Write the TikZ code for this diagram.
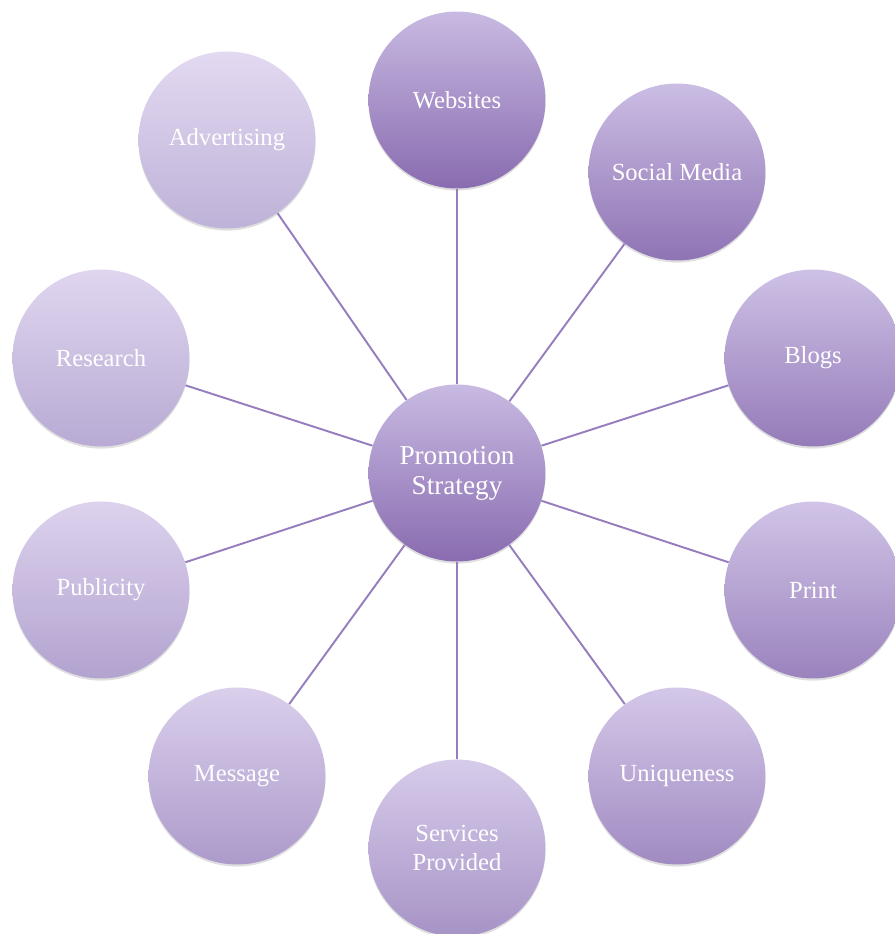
\documentclass[tikz,border=0pt]{standalone}
\usepackage{fontspec}
\setmainfont{Liberation Serif}
\usetikzlibrary{shadows}

\definecolor{lavtop}{RGB}{200,186,226}
\definecolor{lavbot}{RGB}{137,108,176}
\definecolor{paletop}{RGB}{227,217,241}
\definecolor{palebot}{RGB}{190,178,216}
\definecolor{spokecol}{RGB}{150,126,190}

\begin{document}
\begin{tikzpicture}[x=0.02cm, y=-0.02cm,
		bubble/.style={circle, minimum size=3.54cm, inner sep=2pt, align=center,
			top color=lavtop!#1!paletop, bottom color=lavbot!#1!palebot,
			text=white, font=\fontsize{14}{16}\selectfont,
			drop shadow={opacity=0.25, shadow xshift=0pt, shadow yshift=-1.2pt}},
		spoke/.style={draw=spokecol, line width=1.1pt}]
			\useasboundingbox (0, 0) rectangle (894, 934);
			
			% hub and the ten bubbles round it
			\node[bubble=100, font=\fontsize{15.5}{17}\selectfont] (hub) at (457, 473) {Promotion\\Strategy};
			\node[bubble=100] (web) at (457, 100) {Websites};
			\node[bubble=89] (social) at (677, 172) {Social Media};
			\node[bubble=78] (blogs) at (813, 358) {Blogs};
			\node[bubble=67] (print) at (813, 590) {Print};
			\node[bubble=56] (unique) at (677, 776) {Uniqueness};
			\node[bubble=44] (serv) at (457, 848) {Services\\Provided};
			\node[bubble=33] (msg) at (237, 776) {Message};
			\node[bubble=22] (publ) at (101, 590) {Publicity};
			\node[bubble=11] (res) at (101, 358) {Research};
			\node[bubble=0] (adv) at (227, 140) {Advertising};
			
			\path[spoke] (hub) -- (web) (hub) -- (social) (hub) -- (blogs)
			(hub) -- (print) (hub) -- (unique) (hub) -- (serv)
			(hub) -- (msg) (hub) -- (publ) (hub) -- (res) (hub) -- (adv);
		\end{tikzpicture}
\end{document}
